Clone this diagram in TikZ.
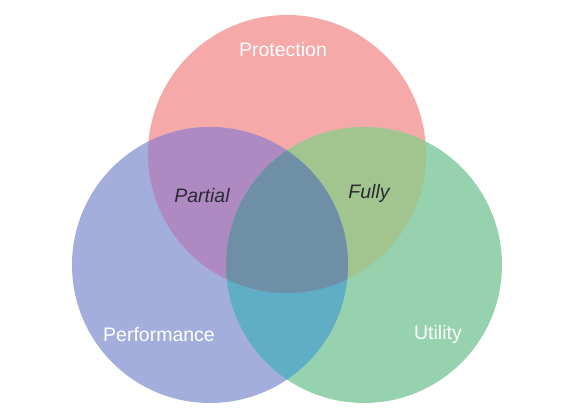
\documentclass[tikz,border=0pt]{standalone}
\usepackage{fontspec}
\setmainfont{Liberation Sans}
\definecolor{cRed}{HTML}{F5A9A8}
\definecolor{cBlue}{HTML}{A3AEDC}
\definecolor{cGreen}{HTML}{96D2AE}
\definecolor{cRB}{HTML}{AF8AC2}
\definecolor{cRG}{HTML}{A2C58F}
\definecolor{cBG}{HTML}{5FAEC6}
\definecolor{cAll}{HTML}{6E8FA6}
\definecolor{cDark}{HTML}{2A2A33}
\tikzset{
  setlabel/.style={text=white, font=\fontsize{19.5}{22}\selectfont, anchor=base, inner sep=0pt},
  zonelabel/.style={text=cDark, font=\fontsize{19.5}{22}\selectfont\itshape, anchor=base, inner sep=0pt}
}
\begin{document}
\begin{tikzpicture}[x=1pt,y=-1pt]
\useasboundingbox (0,0) rectangle (566,414);
\fill[white] (0,0) rectangle (566,414);
\coordinate (R) at (287,154);
\coordinate (B) at (210,265);
\coordinate (G) at (364,265);
\def\rr{139pt}
\def\rb{138pt}
% base circles
\fill[cRed] (R) circle[radius=\rr];
\fill[cBlue] (B) circle[radius=\rb];
\fill[cGreen] (G) circle[radius=\rb];
% red & blue
\begin{scope}
\clip (R) circle[radius=\rr];
\fill[cRB] (B) circle[radius=\rb];
\end{scope}
% red & green
\begin{scope}
\clip (R) circle[radius=\rr];
\fill[cRG] (G) circle[radius=\rb];
\end{scope}
% blue & green
\begin{scope}
\clip (B) circle[radius=\rb];
\fill[cBG] (G) circle[radius=\rb];
\end{scope}
% all three
\begin{scope}
\clip (R) circle[radius=\rr];
\clip (B) circle[radius=\rb];
\fill[cAll] (G) circle[radius=\rb];
\end{scope}
% labels
\node[setlabel] (prot) at (283,57) {Protection};
\node[setlabel] (perf) at (159,342) {Performance};
\node[setlabel] (util) at (438,340) {Utility};
\node[zonelabel] (part) at (202,203) {Partial};
\node[zonelabel] (full) at (369,199) {Fully};
\end{tikzpicture}
\end{document}
